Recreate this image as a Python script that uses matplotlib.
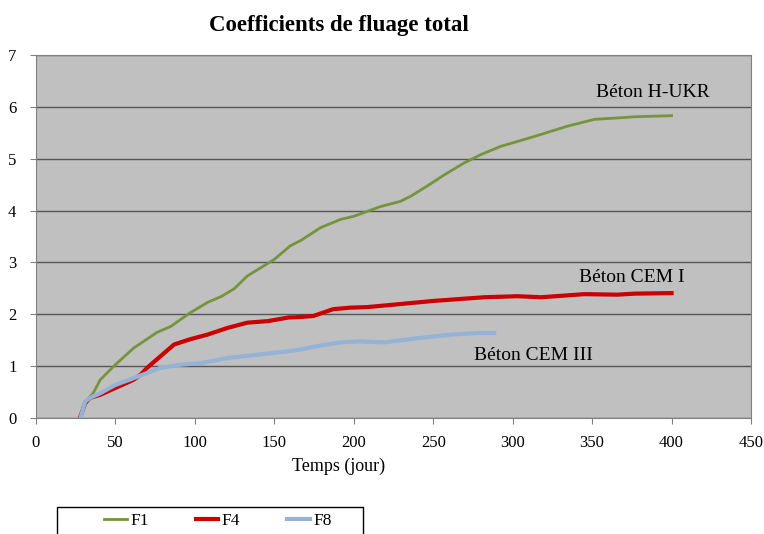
import matplotlib
matplotlib.use("Agg")
import matplotlib.pyplot as plt
from matplotlib.patches import Rectangle

plt.rcParams['font.family'] = ['Liberation Serif', 'DejaVu Serif']

# F1 - Béton H-UKR
t_f1 = [28, 31, 36, 40.5, 50, 61.5, 76, 85, 97, 108, 117, 125, 133, 150, 160, 167,
        179, 191.6, 200, 217, 229.5, 236, 246, 257, 269.5, 280, 292.6, 313.7, 334.7,
        351.6, 368, 377, 400]
f1 = [0, 0.3, 0.48, 0.74, 1.03, 1.35, 1.65, 1.77, 2.03, 2.23, 2.35, 2.5, 2.74, 3.06,
      3.32, 3.43, 3.67, 3.83, 3.89, 4.08, 4.18, 4.28, 4.47, 4.69, 4.92, 5.08, 5.24,
      5.43, 5.63, 5.76, 5.79, 5.81, 5.83]

# F4 - Béton CEM I
t_f4 = [28, 31, 34, 40.5, 50, 61.5, 66, 70, 76, 87, 97, 108, 120.7, 133, 146, 159,
        167, 174.7, 187, 198, 208.4, 229.5, 250.5, 282, 303, 318, 345, 366, 377, 400]
f4 = [0.03, 0.29, 0.39, 0.45, 0.58, 0.74, 0.84, 0.97, 1.13, 1.42, 1.52, 1.61, 1.74,
      1.84, 1.87, 1.94, 1.95, 1.97, 2.1, 2.13, 2.14, 2.2, 2.26, 2.33, 2.35, 2.33,
      2.39, 2.38, 2.4, 2.41]

# F8 - Béton CEM III
t_f8 = [28, 31, 34, 40.5, 50, 61.5, 70, 78.4, 91, 104, 120.7, 141.8, 159, 166.3,
        179, 191.6, 204, 219, 240, 261, 277.9, 288.4]
f8 = [0, 0.32, 0.39, 0.48, 0.64, 0.77, 0.87, 0.97, 1.03, 1.06, 1.16, 1.23, 1.29,
      1.32, 1.4, 1.46, 1.48, 1.46, 1.54, 1.61, 1.64, 1.64]

fig = plt.figure(figsize=(7.64, 5.34), dpi=100)
ax = fig.add_axes([0.047, 0.217, 0.936, 0.68])
ax.set_facecolor('#c0c0c0')

ax.plot(t_f1, f1, color='#77933c', lw=2, label='F1')
ax.plot(t_f4, f4, color='#cc0000', lw=3, label='F4')
ax.plot(t_f8, f8, color='#95b3d7', lw=3, label='F8')

ax.set_xlim(0, 450)
ax.set_ylim(0, 7)
ax.set_xticks(range(0, 451, 50))
ax.set_yticks(range(0, 8))
ax.yaxis.grid(True, color='#555555', lw=1)
ax.set_axisbelow(True)
for s in ax.spines.values():
    s.set_color('#808080')
ax.tick_params(labelsize=12, color='#808080', length=4)
ax.tick_params(axis='x', pad=8)
ax.tick_params(axis='y', pad=10)

# titre et axe x centrés comme dans l'original (décalés à gauche)
fig.text(339 / 764, 1 - 25 / 534, 'Coefficients de fluage total', fontsize=16.5,
         fontweight='bold', ha='center', va='center')
fig.text(339 / 764, 1 - 466 / 534, 'Temps (jour)', fontsize=13, ha='center', va='center')

ax.text(388, 6.28, 'Béton H-UKR', fontsize=14, ha='center', va='center')
ax.text(375, 2.72, 'Béton CEM I', fontsize=14, ha='center', va='center')
ax.text(313, 1.21, 'Béton CEM III', fontsize=14, ha='center', va='center')

# cadre de la légende (coupé en bas)
fig.patches.append(Rectangle((57 / 764, -0.02), 306 / 764, 27 / 534 + 0.02,
                             transform=fig.transFigure, fill=False,
                             edgecolor='black', lw=1))
fig.legend(loc='center', bbox_to_anchor=(218 / 764, 1 - 521 / 534), ncol=3,
           fontsize=12.5, frameon=False, handlelength=1.3, handletextpad=0.2,
           columnspacing=2.7, borderaxespad=0)

fig.savefig('out.png', dpi=100)
